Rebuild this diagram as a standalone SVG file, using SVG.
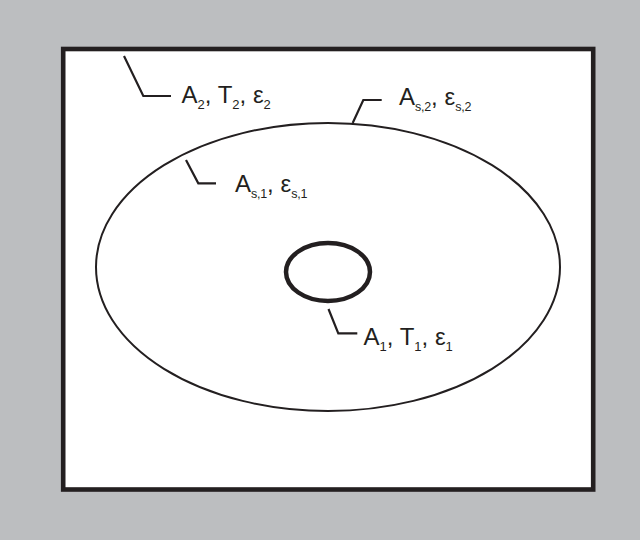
<svg xmlns="http://www.w3.org/2000/svg" width="640" height="540" viewBox="0 0 640 540">
<style>
.lbl{font-family:"Liberation Sans",Arial,sans-serif;font-size:24px;fill:#231f20}
.sub{font-size:13px}
.sub2{font-size:12.5px;letter-spacing:-0.2px}
.leader{fill:none;stroke:#231f20;stroke-width:2.2}
</style>
<rect x="0" y="0" width="640" height="540" fill="#bcbec0"/>
<g id="enclosure">
<rect x="63.2" y="49" width="530" height="440.5" fill="#ffffff" stroke="#231f20" stroke-width="4.6"/>
</g>
<g id="outer-surface">
<ellipse cx="328" cy="267" rx="232" ry="144" fill="none" stroke="#231f20" stroke-width="2"/>
</g>
<g id="inner-body">
<ellipse cx="328" cy="272" rx="42" ry="29" fill="none" stroke="#231f20" stroke-width="4.5"/>
</g>
<g id="connectors">
<polyline class="leader" points="124,56 143.3,96 171,96"/>
<polyline class="leader" points="352.7,123 363.3,100 381.7,100"/>
<polyline class="leader" points="186,160 198.3,183.3 216,183.3"/>
<polyline class="leader" points="328.5,309 338.3,333.3 357.3,333.3"/>
</g>
<g id="label-enclosure">
<text class="lbl" x="181.5" y="103">A<tspan class="sub" dy="6">2</tspan><tspan dy="-6">, T</tspan><tspan class="sub" dy="6">2</tspan><tspan dy="-6">, ε</tspan><tspan class="sub" dy="6">2</tspan></text>
</g>
<g id="label-outer-outside">
<text class="lbl" x="399" y="105">A<tspan class="sub2" dy="6">s,2</tspan><tspan dy="-6">, ε</tspan><tspan class="sub2" dy="6">s,2</tspan></text>
</g>
<g id="label-outer-inside">
<text class="lbl" x="235" y="192">A<tspan class="sub2" dy="6">s,1</tspan><tspan dy="-6">, ε</tspan><tspan class="sub2" dy="6">s,1</tspan></text>
</g>
<g id="label-inner">
<text class="lbl" x="363.5" y="345">A<tspan class="sub" dy="6">1</tspan><tspan dy="-6">, T</tspan><tspan class="sub" dy="6">1</tspan><tspan dy="-6">, ε</tspan><tspan class="sub" dy="6">1</tspan></text>
</g>
</svg>
